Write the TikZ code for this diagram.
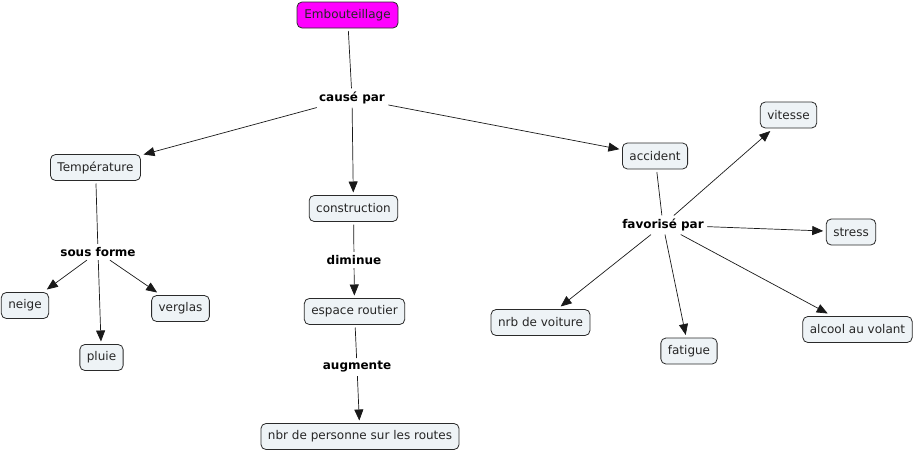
\documentclass[tikz,border=0pt]{standalone}
\usepackage{fontspec}
\setmainfont{DejaVu Sans}
\usetikzlibrary{arrows.meta}
\definecolor{boxfill}{HTML}{EEF3F6}
\definecolor{boxline}{HTML}{2A2A2A}
\definecolor{pinkfill}{RGB}{255,0,255}
\tikzset{
  concept/.style={draw=boxline, line width=0.8pt, fill=boxfill, rounded corners=5pt,
    minimum height=26pt, inner xsep=7pt, inner ysep=2pt, outer sep=3pt,
    font=\fontsize{12}{14}\selectfont, text=black!85},
  linklabel/.style={inner sep=1.5pt, outer sep=2pt, font=\fontsize{12}{14}\selectfont\bfseries},
  conn/.style={draw=black!90, line width=0.7pt},
  arr/.style={conn, -{Triangle[length=11pt,width=9pt]}}
}
\begin{document}
\begin{tikzpicture}[x=1pt,y=-1pt]
\useasboundingbox (0,0) rectangle (915,453);
% concepts
\node[concept, fill=pinkfill, minimum width=101pt] (emb) at (347.5,15) {Embouteillage};
\node[concept] (temp) at (95.5,167.5) {Température};
\node[concept] (cons) at (353.5,208.5) {construction};
\node[concept] (acc) at (655,156) {accident};
\node[concept] (neige) at (25,305.5) {neige};
\node[concept] (verg) at (180.5,308.5) {verglas};
\node[concept] (pluie) at (101.5,357.5) {pluie};
\node[concept] (esp) at (354.5,311.5) {espace routier};
\node[concept] (nbr) at (360,436.5) {nbr de personne sur les routes};
\node[concept] (vit) at (788.5,115) {vitesse};
\node[concept] (stress) at (851,232) {stress};
\node[concept] (voit) at (540.5,322.5) {nrb de voiture};
\node[concept] (fat) at (689,351) {fatigue};
\node[concept] (alc) at (857.5,329.5) {alcool au volant};
% link labels
\node[linklabel] (cause) at (352,98) {causé par};
\node[linklabel] (sous) at (98,252) {sous forme};
\node[linklabel] (dim) at (354,260) {diminue};
\node[linklabel] (aug) at (357,367) {augmente};
\node[linklabel] (fav) at (663,225) {favorisé par};
% connectors
\draw[conn] (emb) -- (cause);
\draw[arr] (cause) -- (temp);
\draw[arr] (cause) -- (cons);
\draw[arr] (cause) -- (acc);
\draw[conn] (temp) -- (sous);
\draw[arr] (sous) -- (neige);
\draw[arr] (sous) -- (pluie);
\draw[arr] (sous) -- (verg);
\draw[conn] (cons) -- (dim);
\draw[arr] (dim) -- (esp);
\draw[conn] (esp) -- (aug);
\draw[arr] (aug) -- (nbr);
\draw[conn] (acc) -- (fav);
\draw[arr] (fav) -- (vit);
\draw[arr] (fav) -- (stress);
\draw[arr] (fav) -- (voit);
\draw[arr] (fav) -- (fat);
\draw[arr] (fav) -- (alc);
\end{tikzpicture}
\end{document}
